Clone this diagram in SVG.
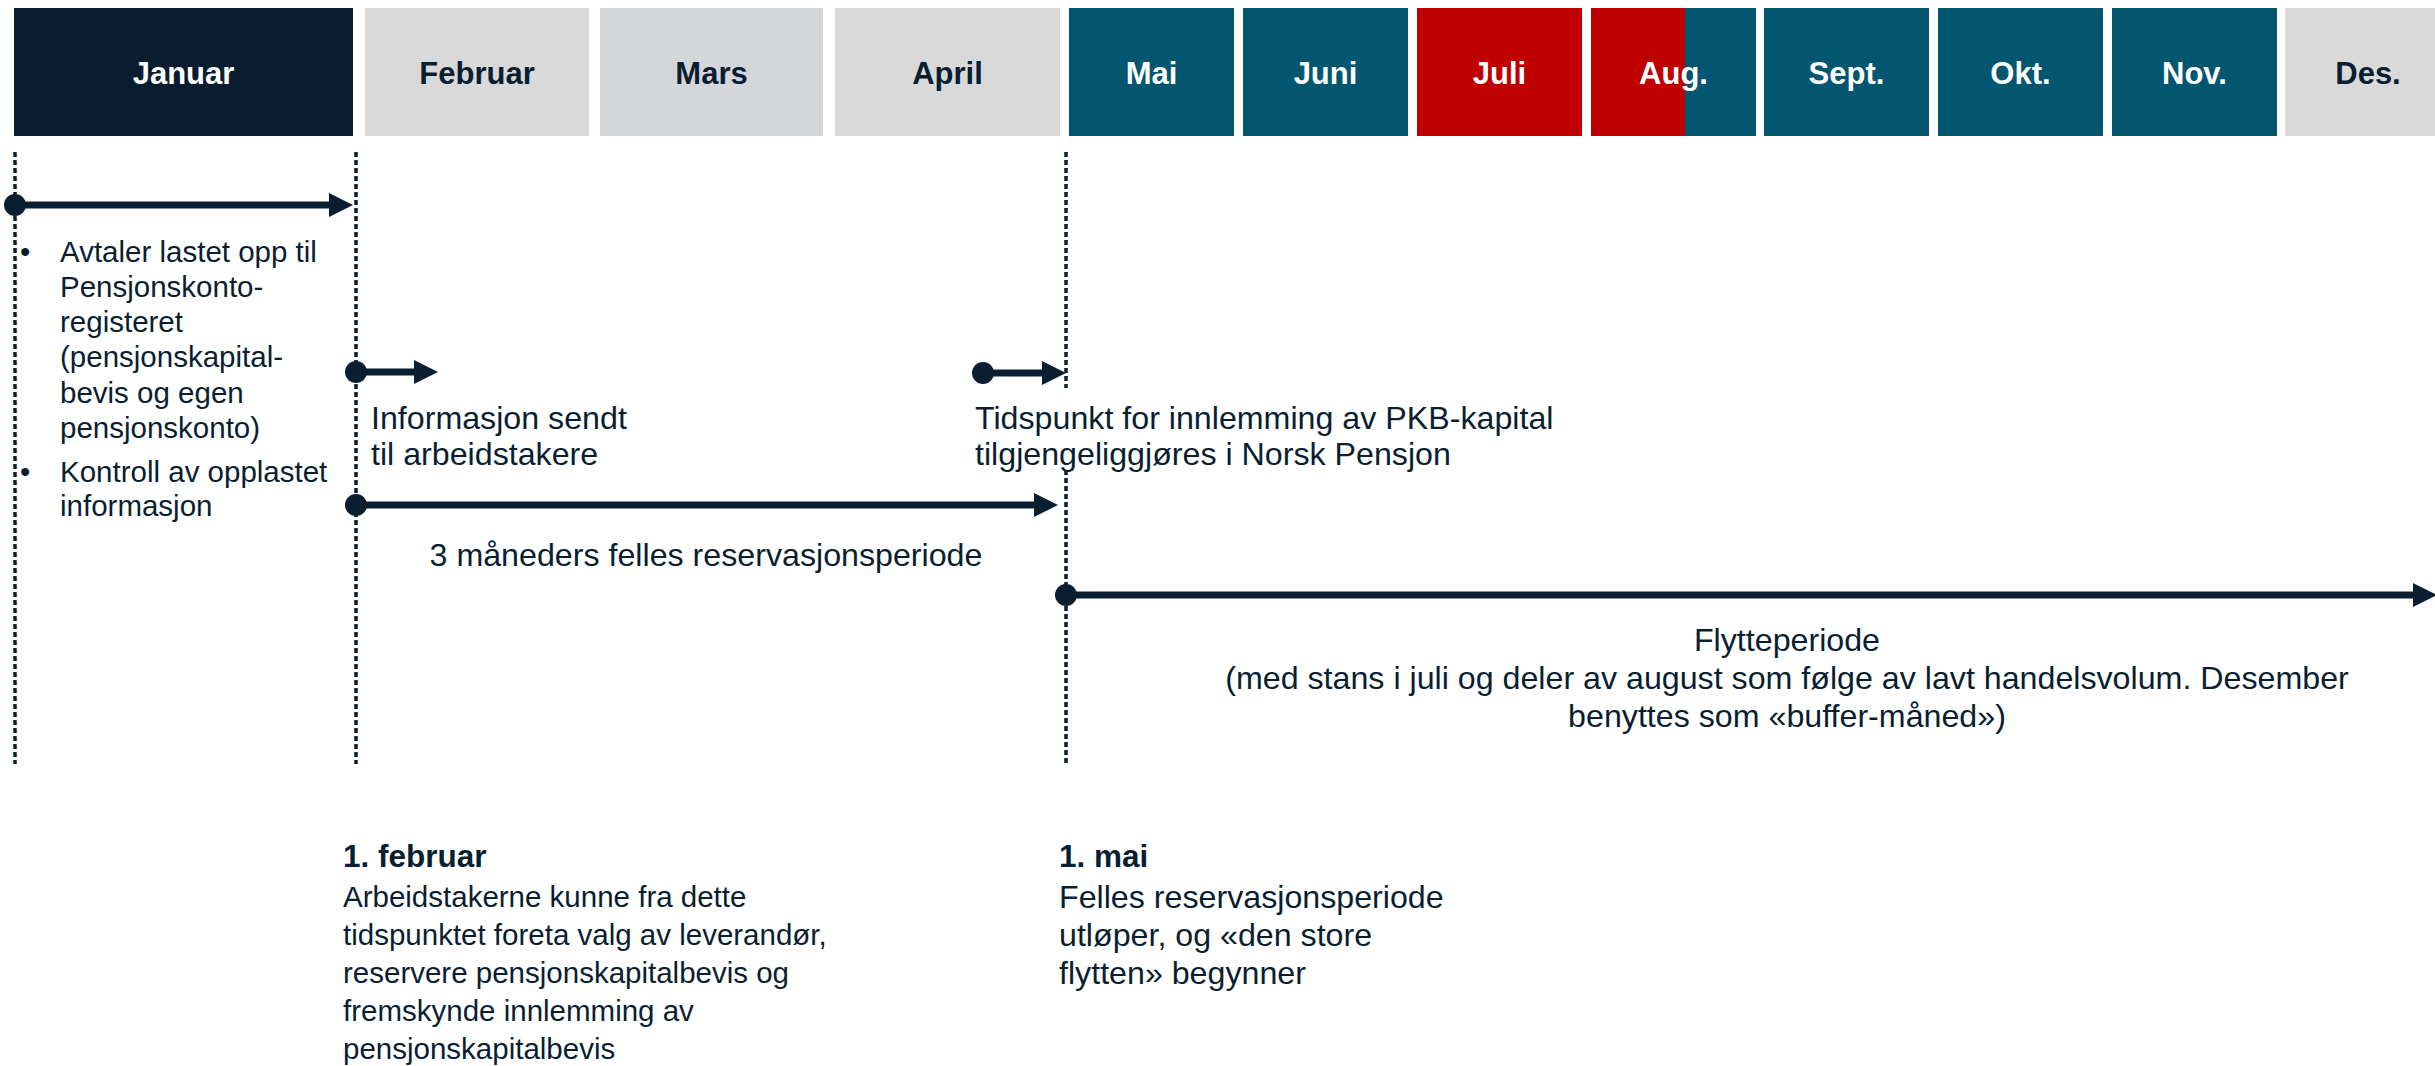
<svg xmlns="http://www.w3.org/2000/svg" width="2435" height="1066" viewBox="0 0 2435 1066">
<defs>
<style>
.m{font-family:"Liberation Sans",Arial,sans-serif;font-weight:bold;font-size:31px;text-anchor:middle}
.w{fill:#ffffff}
.d{fill:#0a1e31}
.t{font-family:"Liberation Sans",Arial,sans-serif;font-size:29.5px;fill:#0a1e31}
.L{font-size:32.2px}
.b{font-weight:bold;font-size:31.5px}
.c{text-anchor:middle}
.dot{stroke:#0a1e31;stroke-width:3.5;stroke-dasharray:5 3;fill:none}
.arr{stroke:#0a1e31;stroke-width:7;fill:none;marker-start:url(#ds);marker-end:url(#ah)}
</style>
<marker id="ah" markerUnits="userSpaceOnUse" markerWidth="24" markerHeight="24" refX="0" refY="12" orient="auto" overflow="visible">
<path d="M0,0 L24,12 L0,24 z" fill="#0a1e31"/>
</marker>
<marker id="ds" markerUnits="userSpaceOnUse" markerWidth="24" markerHeight="24" refX="12" refY="12" orient="auto" overflow="visible">
<circle cx="12" cy="12" r="11" fill="#0a1e31"/>
</marker>
</defs>
<rect width="2435" height="1066" fill="#ffffff"/>

<g id="months">
<g id="m-jan"><rect x="14" y="8" width="339" height="128" fill="#081d30"/><text class="m w" x="183.5" y="84">Januar</text></g>
<g id="m-feb"><rect x="365" y="8" width="224" height="128" fill="#d9d9d9"/><text class="m d" x="477" y="84">Februar</text></g>
<g id="m-mar"><rect x="600" y="8" width="223" height="128" fill="#d5d6da"/><text class="m d" x="711.5" y="84">Mars</text></g>
<g id="m-apr"><rect x="835" y="8" width="225" height="128" fill="#d9d9d9"/><text class="m d" x="947.5" y="84">April</text></g>
<g id="m-mai"><rect x="1069" y="8" width="165" height="128" fill="#02566f"/><text class="m w" x="1151.5" y="84">Mai</text></g>
<g id="m-jun"><rect x="1243" y="8" width="165" height="128" fill="#02566f"/><text class="m w" x="1325.5" y="84">Juni</text></g>
<g id="m-jul"><rect x="1417" y="8" width="165" height="128" fill="#c00000"/><text class="m w" x="1499.5" y="84">Juli</text></g>
<g id="m-aug"><rect x="1591" y="8" width="94" height="128" fill="#c00000"/><rect x="1685" y="8" width="71" height="128" fill="#02566f"/><text class="m w" x="1673.5" y="84">Aug.</text></g>
<g id="m-sep"><rect x="1764" y="8" width="165" height="128" fill="#02566f"/><text class="m w" x="1846.5" y="84">Sept.</text></g>
<g id="m-okt"><rect x="1938" y="8" width="165" height="128" fill="#02566f"/><text class="m w" x="2020.5" y="84">Okt.</text></g>
<g id="m-nov"><rect x="2112" y="8" width="165" height="128" fill="#02566f"/><text class="m w" x="2194.5" y="84">Nov.</text></g>
<g id="m-des"><rect x="2285" y="8" width="160" height="128" fill="#d9d9d9"/><text class="m d" x="2368" y="84">Des.</text></g>
</g>

<g id="guides">
<line class="dot" x1="15" y1="152" x2="15" y2="764"/>
<line class="dot" x1="356" y1="152" x2="356" y2="764"/>
<line class="dot" x1="1066" y1="152" x2="1066" y2="388"/>
<line class="dot" x1="1066" y1="470" x2="1066" y2="764"/>
</g>

<g id="connectors">
<path class="arr" d="M15,205 H329"/>
<path class="arr" d="M356,372 H414"/>
<path class="arr" d="M356,505 H1034"/>
<path class="arr" d="M983,373 H1042"/>
<path class="arr" d="M1066,595 H2413"/>
</g>

<g id="n-januar-tasks">
<text class="t" x="20" y="262">•</text>
<text class="t" x="60" y="262">Avtaler lastet opp til</text>
<text class="t" x="60" y="297">Pensjonskonto-</text>
<text class="t" x="60" y="332">registeret</text>
<text class="t" x="60" y="367">(pensjonskapital-</text>
<text class="t" x="60" y="403">bevis og egen</text>
<text class="t" x="60" y="438">pensjonskonto)</text>
<text class="t" x="20" y="482">•</text>
<text class="t" x="60" y="482">Kontroll av opplastet</text>
<text class="t" x="60" y="516">informasjon</text>
</g>

<g id="n-informasjon">
<text class="t L" x="371" y="429">Informasjon sendt</text>
<text class="t L" x="371" y="465">til arbeidstakere</text>
</g>

<g id="n-tidspunkt">
<text class="t L" x="975" y="429">Tidspunkt for innlemming av PKB-kapital</text>
<text class="t L" x="975" y="465">tilgjengeliggjøres i Norsk Pensjon</text>
</g>

<g id="n-reservasjon">
<text class="t L c" x="706" y="566">3 måneders felles reservasjonsperiode</text>
</g>

<g id="n-flytte">
<text class="t L c" x="1787" y="651">Flytteperiode</text>
<text class="t L c" x="1787" y="689">(med stans i juli og deler av august som følge av lavt handelsvolum. Desember</text>
<text class="t L c" x="1787" y="727">benyttes som «buffer-måned»)</text>
</g>

<g id="n-1feb">
<text class="t b" x="343" y="867">1. februar</text>
<text class="t" x="343" y="907">Arbeidstakerne kunne fra dette</text>
<text class="t" x="343" y="945">tidspunktet foreta valg av leverandør,</text>
<text class="t" x="343" y="983">reservere pensjonskapitalbevis og</text>
<text class="t" x="343" y="1021">fremskynde innlemming av</text>
<text class="t" x="343" y="1059">pensjonskapitalbevis</text>
</g>

<g id="n-1mai">
<text class="t b" x="1059" y="867">1. mai</text>
<text class="t L" x="1059" y="908">Felles reservasjonsperiode</text>
<text class="t L" x="1059" y="946">utløper, og «den store</text>
<text class="t L" x="1059" y="984">flytten» begynner</text>
</g>
</svg>
